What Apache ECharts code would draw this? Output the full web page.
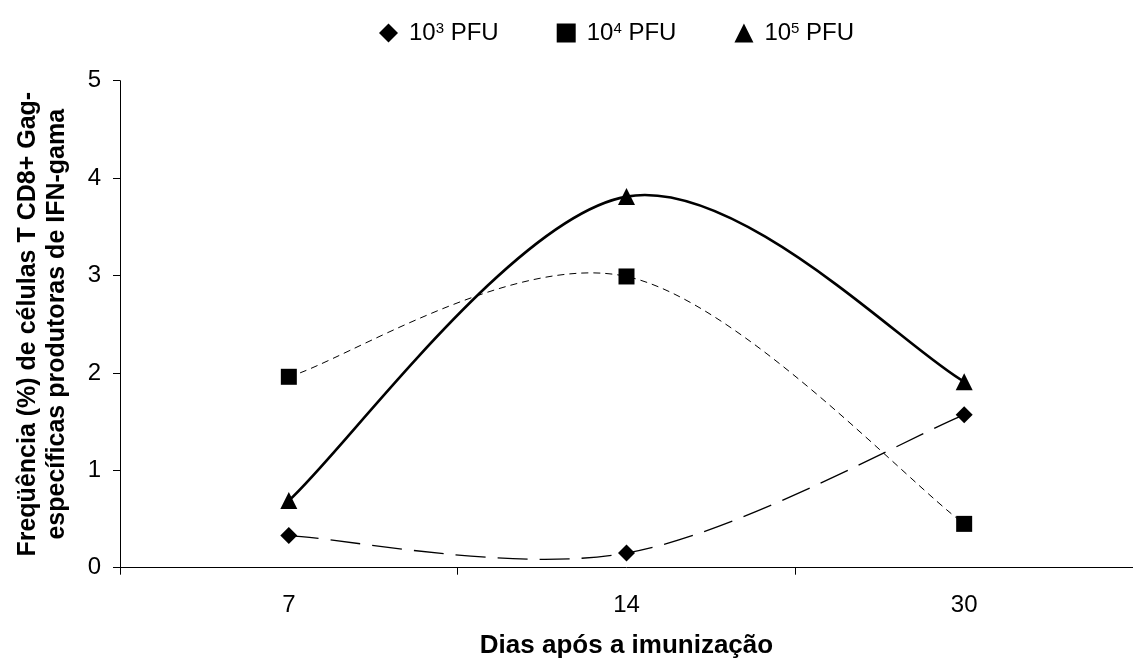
<!DOCTYPE html>
<html>
<head>
<meta charset="utf-8">
<script src="https://cdn.jsdelivr.net/npm/echarts@6/dist/echarts.min.js"></script>
<style>
html,body{margin:0;padding:0;background:#fff;}
#chart{width:1133px;height:664px;}
</style>
</head>
<body>
<div id="chart"></div>
<script>
// Categories (days after immunization)
const categories = ['7', '14', '30'];
// Series values (% IFN-gamma producing CD8+ T cells)
const pfu1e3 = [0.33, 0.15, 1.57];
const pfu1e4 = [1.96, 2.99, 0.45];
const pfu1e5 = [0.69, 3.81, 1.91];
// Legend labels
const seriesNames = ['10^3 PFU', '10^4 PFU', '10^5 PFU'];
const seriesExp = ['3', '4', '5'];
// Y tick range
const yMin = 0, yMax = 5, yInterval = 1;

const FONT = '"Liberation Sans", Arial, sans-serif';
const chart = echarts.init(document.getElementById('chart'));

// Smoothed (Excel-like Bezier) curve through the data points, positioned via the axes
function curveSeries(values, lineWidth, dash) {
  return {
    type: 'custom',
    name: '_curve',
    data: [0],
    silent: true,
    animation: false,
    clip: false,
    renderItem: function (params, api) {
      const pts = values.map(function (v, i) { return api.coord([i, v]); });
      let d = 'M' + pts[0][0] + ' ' + pts[0][1];
      for (let i = 0; i < pts.length - 1; i++) {
        const p0 = pts[i - 1] || pts[i], p1 = pts[i], p2 = pts[i + 1], p3 = pts[i + 2] || pts[i + 1];
        const c1x = p1[0] + (p2[0] - p0[0]) / 6, c1y = p1[1] + (p2[1] - p0[1]) / 6;
        const c2x = p2[0] - (p3[0] - p1[0]) / 6, c2y = p2[1] - (p3[1] - p1[1]) / 6;
        d += ' C' + c1x + ' ' + c1y + ' ' + c2x + ' ' + c2y + ' ' + p2[0] + ' ' + p2[1];
      }
      return {
        type: 'path',
        shape: { pathData: d },
        style: { fill: 'none', stroke: '#000', lineWidth: lineWidth, lineDash: dash }
      };
    }
  };
}

function markerSeries(name, values, symbol, size) {
  return {
    name: name,
    type: 'scatter',
    data: values,
    symbol: symbol,
    symbolSize: size,
    itemStyle: { color: '#000', opacity: 1 },
    emphasis: { disabled: true },
    animation: false,
    z: 5
  };
}

chart.setOption({
  backgroundColor: '#fff',
  animation: false,
  legend: {
    top: 16,
    left: 374,
    itemWidth: 19,
    itemHeight: 19,
    itemGap: 58,
    data: [
      { name: seriesNames[0], icon: 'diamond', itemStyle: { opacity: 1, color: '#000' } },
      { name: seriesNames[1], icon: 'rect', itemStyle: { opacity: 1, color: '#000' } },
      { name: seriesNames[2], icon: 'triangle', itemStyle: { opacity: 1, color: '#000' } }
    ],
    formatter: function (n) {
      const i = seriesNames.indexOf(n);
      return '10{sup|' + seriesExp[i] + '} PFU';
    },
    textStyle: {
      fontFamily: FONT, fontSize: 24, color: '#000', padding: [0, 0, 0, 6],
      rich: { sup: { fontFamily: FONT, fontSize: 15, color: '#000', verticalAlign: 'top', padding: [0, 0, 8, 0] } }
    }
  },
  grid: { left: 120, top: 80.7, bottom: 96.3, width: 1020, containLabel: false },
  xAxis: {
    type: 'category',
    data: categories,
    boundaryGap: true,
    axisLine: { lineStyle: { color: '#000', width: 1 } },
    axisTick: { show: true, length: 7, lineStyle: { color: '#000' } },
    axisLabel: { color: '#000', fontFamily: FONT, fontSize: 24, margin: 26 },
    name: 'Dias após a imunização',
    nameLocation: 'middle',
    nameGap: 65,
    nameTextStyle: { color: '#000', fontFamily: FONT, fontSize: 26, fontWeight: 'bold' },
    splitLine: { show: false }
  },
  yAxis: {
    type: 'value',
    min: yMin, max: yMax, interval: yInterval,
    axisLine: { show: true, lineStyle: { color: '#000', width: 1 } },
    axisTick: { show: true, length: 7, lineStyle: { color: '#000' } },
    axisLabel: { color: '#000', fontFamily: FONT, fontSize: 24, margin: 19 },
    splitLine: { show: false },
    name: 'Freqüência (%) de células T CD8+ Gag-\nespecíficas produtoras de IFN-gama',
    nameLocation: 'middle',
    nameGap: 48,
    nameTextStyle: { color: '#000', fontFamily: FONT, fontSize: 25, fontWeight: 'bold', lineHeight: 29 }
  },
  series: [
    curveSeries(pfu1e3, 1.3, [30, 12]),
    curveSeries(pfu1e4, 1, [7, 5]),
    curveSeries(pfu1e5, 2.6, null),
    markerSeries(seriesNames[0], pfu1e3, 'diamond', 17),
    markerSeries(seriesNames[1], pfu1e4, 'rect', 16),
    markerSeries(seriesNames[2], pfu1e5, 'triangle', 17)
  ]
});
</script>
</body>
</html>
